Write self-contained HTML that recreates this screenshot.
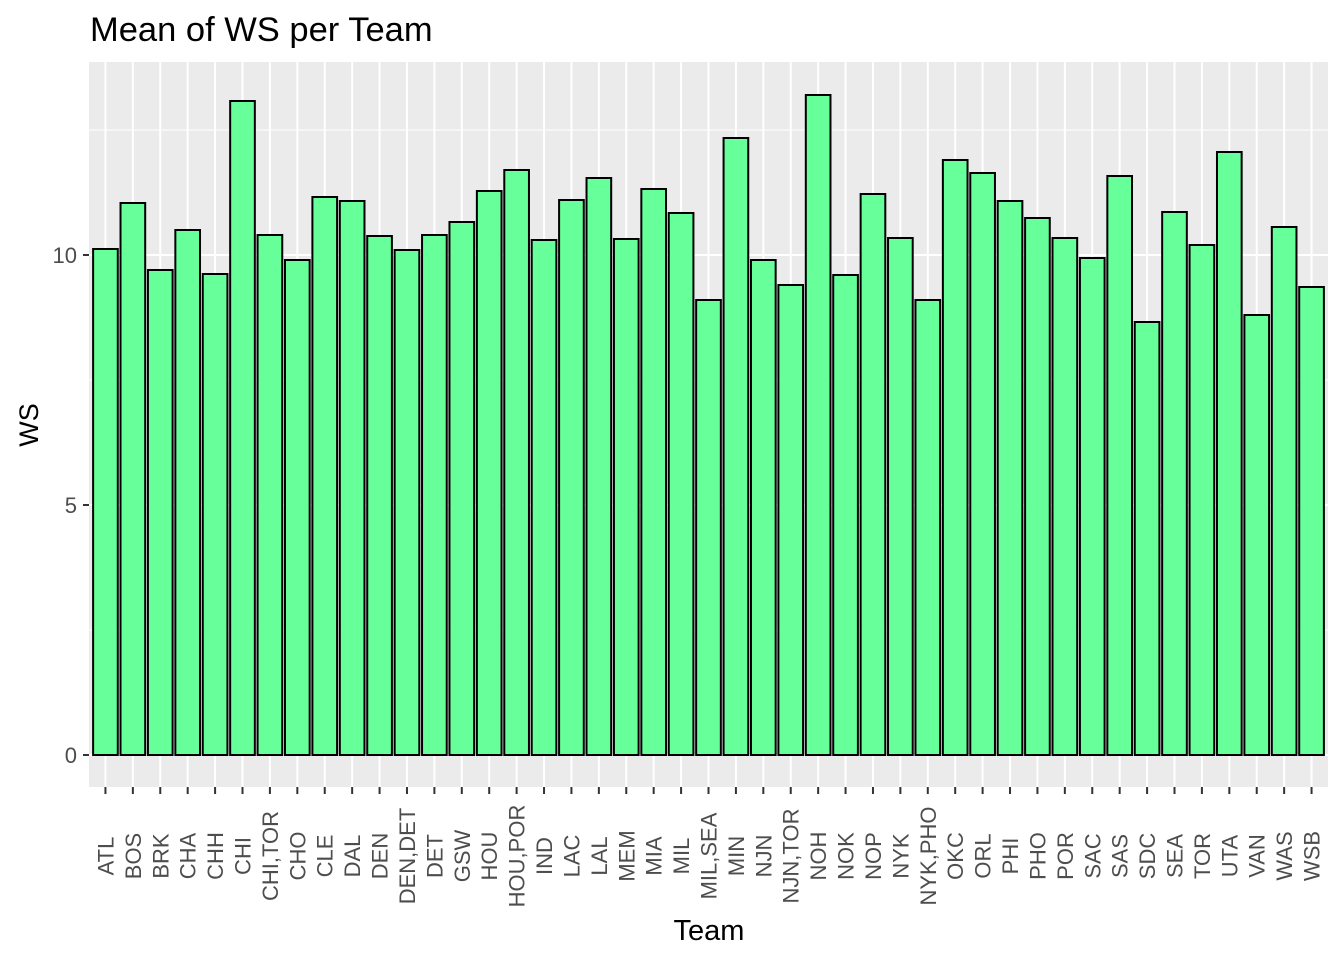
<!DOCTYPE html>
<html><head><meta charset="utf-8"><style>body{margin:0;background:#fff}svg{display:block}text{font-family:"Liberation Sans",Arial,sans-serif}</style></head>
<body>
<svg id="chart" width="1344" height="960" viewBox="0 0 1344 960">
<rect x="89" y="62" width="1239" height="725" fill="#ebebeb"/>
<g id="grid"></g><g id="bars"></g><g id="axes"></g>
<text x="90" y="41" font-size="34.5" fill="#000">Mean of WS per Team</text>
<text x="709" y="940" font-size="29" text-anchor="middle" fill="#000">Team</text>
<text transform="translate(38,425) rotate(-90)" font-size="27" text-anchor="middle" fill="#000">WS</text>
</svg>
<script>
const categories=["ATL","BOS","BRK","CHA","CHH","CHI","CHI,TOR","CHO","CLE","DAL","DEN","DEN,DET","DET","GSW","HOU","HOU,POR","IND","LAC","LAL","MEM","MIA","MIL","MIL,SEA","MIN","NJN","NJN,TOR","NOH","NOK","NOP","NYK","NYK,PHO","OKC","ORL","PHI","PHO","POR","SAC","SAS","SDC","SEA","TOR","UTA","VAN","WAS","WSB"];
const values=[10.12,11.04,9.7,10.5,9.62,13.08,10.4,9.9,11.16,11.08,10.38,10.1,10.4,10.66,11.28,11.7,10.3,11.1,11.54,10.32,11.32,10.84,9.1,12.34,9.9,9.4,13.2,9.6,11.22,10.34,9.1,11.9,11.64,11.08,10.74,10.34,9.94,11.58,8.66,10.86,10.2,12.06,8.8,10.56,9.36];
const yTicks=[0,5,10];
const yMinor=[2.5,7.5,12.5];
const NS="http://www.w3.org/2000/svg";
const panelLeft=89,panelWidth=1239,panelTop=62,panelBottom=787;
const step=panelWidth/(categories.length-1+1.2);
const xs=i=>panelLeft+step*(0.6+i);
const ys=v=>755-v*50;
function mk(t,a,p){const e=document.createElementNS(NS,t);for(const k in a)e.setAttribute(k,a[k]);p.appendChild(e);return e;}
const grid=document.getElementById('grid'),bars=document.getElementById('bars'),axes=document.getElementById('axes');
yMinor.forEach(v=>{const l=mk('line',{x1:panelLeft,x2:panelLeft+panelWidth,y1:ys(v),y2:ys(v),stroke:'#fff','stroke-width':1},grid);

});
yTicks.forEach(v=>{const l=mk('line',{x1:panelLeft,x2:panelLeft+panelWidth,y1:ys(v),y2:ys(v),stroke:'#fff','stroke-width':2},grid);


const t=mk('line',{x1:83,x2:89,y1:ys(v),y2:ys(v),stroke:'#333','stroke-width':2},axes);


const tx=mk('text',{x:77,y:ys(v)+8,'font-size':22,'text-anchor':'end',fill:'#4d4d4d'},axes);tx.textContent=v;

});
categories.forEach((c,i)=>{const x=xs(i);
const g=mk('line',{x1:x,x2:x,y1:panelTop,y2:panelBottom,stroke:'#fff','stroke-width':2},grid);


const bw=step*0.9;
const r=mk('rect',{x:x-bw/2,y:ys(values[i]),width:bw,height:ys(0)-ys(values[i]),fill:'#66ff99',stroke:'#000','stroke-width':2},bars);


const t=mk('line',{x1:x,x2:x,y1:panelBottom,y2:panelBottom+7,stroke:'#333','stroke-width':2},axes);


const tx=mk('text',{transform:`translate(${x+8},856) rotate(-90)`,'font-size':22,'text-anchor':'middle',fill:'#4d4d4d'},axes);tx.textContent=c;

});
</script>
</body></html>
